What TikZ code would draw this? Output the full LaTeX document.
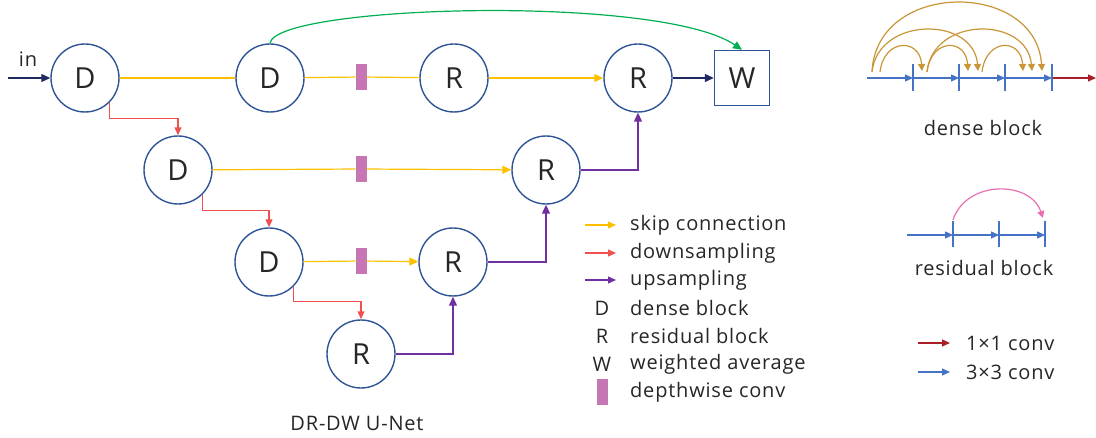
\documentclass[tikz,border=0pt]{standalone}
\usepackage{fontspec}
\setmainfont{Open Sans}[LetterSpace=4]
\usetikzlibrary{arrows.meta,calc}
\definecolor{cblue}{RGB}{47,85,151}
\definecolor{cyel}{RGB}{255,192,0}
\definecolor{cred}{RGB}{240,80,80}
\definecolor{cpur}{RGB}{112,48,160}
\definecolor{cnavy}{RGB}{32,42,96}
\definecolor{cgreen}{RGB}{0,176,80}
\definecolor{cpink}{RGB}{198,118,178}
\definecolor{cgold}{RGB}{200,150,55}
\definecolor{cblk}{RGB}{68,114,196}
\definecolor{cdred}{RGB}{170,30,40}
\definecolor{carc}{RGB}{232,112,176}
\begin{document}
\begin{tikzpicture}[x=1pt,y=-1pt,
  circ/.style={circle, draw=cblue, line width=1.4pt, minimum size=68pt, inner sep=0pt, font=\fontsize{29}{29}\selectfont, text=black!85},
  wbox/.style={rectangle, draw=cblue, line width=1.4pt, minimum size=55pt, inner sep=0pt, font=\fontsize{29}{29}\selectfont, text=black!85},
  dwr/.style={rectangle, fill=cpink, minimum width=11pt, minimum height=26pt, inner sep=0pt},
  tip/.style={-{Triangle[length=9pt,width=8pt]}},
  stip/.style={-{Triangle[length=8pt,width=7pt]}},
  skipl/.style={draw=cyel, line width=1.2pt},
  downl/.style={draw=cred, line width=1.2pt},
  upl/.style={draw=cpur, line width=1.2pt},
  lbl/.style={font=\fontsize{20}{20}\selectfont, text=black!85, inner sep=0pt},
  goldarc/.style={draw=cgold, line width=1.2pt, -{Triangle[length=7pt,width=7pt]}},
  tick/.style={draw=cblk, line width=1.6pt},
  blka/.style={draw=cblk, line width=1.2pt, -{Triangle[length=8pt,width=7pt]}}
]
\useasboundingbox (0,0) rectangle (1096,438);

% U-Net nodes
\node[circ] (d1) at (85,78) {D};
\node[circ] (d2) at (270,78) {D};
\node[circ] (r1) at (454,78) {R};
\node[circ] (r0) at (638,78) {R};
\node[wbox] (w) at (742,78) {W};
\node[circ] (d3) at (178,170) {D};
\node[circ] (r2) at (546,170) {R};
\node[circ] (d4) at (269,262) {D};
\node[circ] (r3) at (453,262) {R};
\node[circ] (r4) at (361,354) {R};
\node[dwr] (p1) at (361,77) {};
\node[dwr] (p2) at (361,169) {};
\node[dwr] (p3) at (361,261) {};

% input
\coordinate (in) at (8,78);
\draw[cnavy, line width=1.2pt, tip] (in) -- (d1);
\node[lbl] (inl) at (28,59) {in};

% skip connections
\draw[skipl] (d1) -- (d2);
\draw[skipl] (d2) -- (p1);
\draw[skipl] (p1) -- (r1);
\draw[skipl, tip] (r1) -- (r0);
\draw[skipl] (d3) -- (p2);
\draw[skipl, tip] (p2) -- (r2);
\draw[skipl] (d4) -- (p3);
\draw[skipl, tip] (p3) -- (r3);

% downsampling
\draw[downl, stip] (d1.-45) -- ++(0,16) -| (d3.north);
\draw[downl, stip] (d3.-45) -- ++(0,16) -| (d4.north);
\draw[downl, stip] (d4.-45) -- ++(0,15) -| (r4.north);

% upsampling
\draw[upl, tip] (r4.east) -| (r3.south);
\draw[upl, tip] (r3.east) -| (r2.south);
\draw[upl, tip] (r2.east) -| (r0.south);

% output
\draw[cnavy, line width=1.2pt, tip] (r0) -- (w);
\draw[cgreen, line width=1.2pt, tip] (d2.north) .. controls (275,5) and (660,-6) .. (w.north);

\node[lbl] (title) at (357,423) {DR-DW U-Net};

% legend
\coordinate (a1) at (585,225); \coordinate (b1) at (616,225);
\coordinate (a2) at (585,253); \coordinate (b2) at (616,253);
\coordinate (a3) at (585,280); \coordinate (b3) at (616,280);
\draw[skipl, stip] (a1) -- (b1);
\draw[downl, stip] (a2) -- (b2);
\draw[upl, stip] (a3) -- (b3);
\node[lbl, anchor=west] (t1) at (630,225) {skip connection};
\node[lbl, anchor=west] (t2) at (630,253) {downsampling};
\node[lbl, anchor=west] (t3) at (630,280) {upsampling};
\node[lbl] (sd) at (602,308) {D};
\node[lbl] (sr) at (602,336) {R};
\node[lbl] (sw) at (602,364) {W};
\node[dwr] (sp) at (602,392) {};
\node[lbl, anchor=west] (t4) at (630,308) {dense block};
\node[lbl, anchor=west] (t5) at (630,336) {residual block};
\node[lbl, anchor=west] (t6) at (630,364) {weighted average};
\node[lbl, anchor=west] (t7) at (630,392) {depthwise conv};

% dense block
\coordinate (k0) at (867,78);
\coordinate (k1) at (913,78);
\coordinate (k2) at (959,78);
\coordinate (k3) at (1005,78);
\coordinate (k4) at (1052,78);
\coordinate (kout) at (1096,78);
\draw[blka] (k0) -- (k1);
\draw[blka] (k1) -- (k2);
\draw[blka] (k2) -- (k3);
\draw[blka] (k3) -- (k4);
\draw[draw=cdred, line width=1.2pt, -{Triangle[length=8pt,width=7pt]}] (k4) -- (kout);
\foreach \k in {k1,k2,k3,k4} \draw[tick] ($(\k)+(0,-14)$) -- ($(\k)+(0,13)$);
\coordinate (s0a) at (872,72); \coordinate (s0b) at (880,72);
\coordinate (s1) at (927,72); \coordinate (s2) at (982,72);
\coordinate (e1) at (922,71); \coordinate (e2a) at (968,71); \coordinate (e2b) at (978,71);
\coordinate (e3a) at (1023,71); \coordinate (e3b) at (1032,71); \coordinate (e3c) at (1042,71);
\draw[goldarc] (s0a) .. controls (876,-20) and (1036,-20) .. (e3c);
\draw[goldarc] (s0a) .. controls (878,16) and (974,16) .. (e2b);
\draw[goldarc] (s0b) .. controls (884,38) and (920,38) .. (e1);
\draw[goldarc] (s1) .. controls (933,16) and (1027,16) .. (e3b);
\draw[goldarc] (s1) .. controls (931,38) and (966,38) .. (e2a);
\draw[goldarc] (s2) .. controls (986,38) and (1021,38) .. (e3a);
\node[lbl] (dbl) at (983,128) {dense block};

% residual block
\coordinate (q0) at (907,235);
\coordinate (q1) at (953,235);
\coordinate (q2) at (999,235);
\coordinate (q3) at (1045,235);
\draw[blka] (q0) -- (q1);
\draw[blka] (q1) -- (q2);
\draw[blka] (q2) -- (q3);
\foreach \k in {q1,q2,q3} \draw[tick] ($(\k)+(0,-14)$) -- ($(\k)+(0,12)$);
\draw[draw=carc, line width=1.2pt, -{Triangle[length=7pt,width=7pt]}] ($(q1)+(0,-15)$) .. controls (966,180) and (1030,180) .. ($(q3)+(-2,-17)$);
\node[lbl] (rbl) at (984,268) {residual block};

% conv legend
\coordinate (c1a) at (918,343); \coordinate (c1b) at (950,343);
\coordinate (c2a) at (918,372); \coordinate (c2b) at (950,372);
\draw[draw=cdred, line width=1.2pt, stip] (c1a) -- (c1b);
\draw[draw=cblk, line width=1.2pt, stip] (c2a) -- (c2b);
\node[lbl, anchor=west] (ct1) at (966,343) {1×1 conv};
\node[lbl, anchor=west] (ct2) at (966,372) {3×3 conv};
\end{tikzpicture}
\end{document}
